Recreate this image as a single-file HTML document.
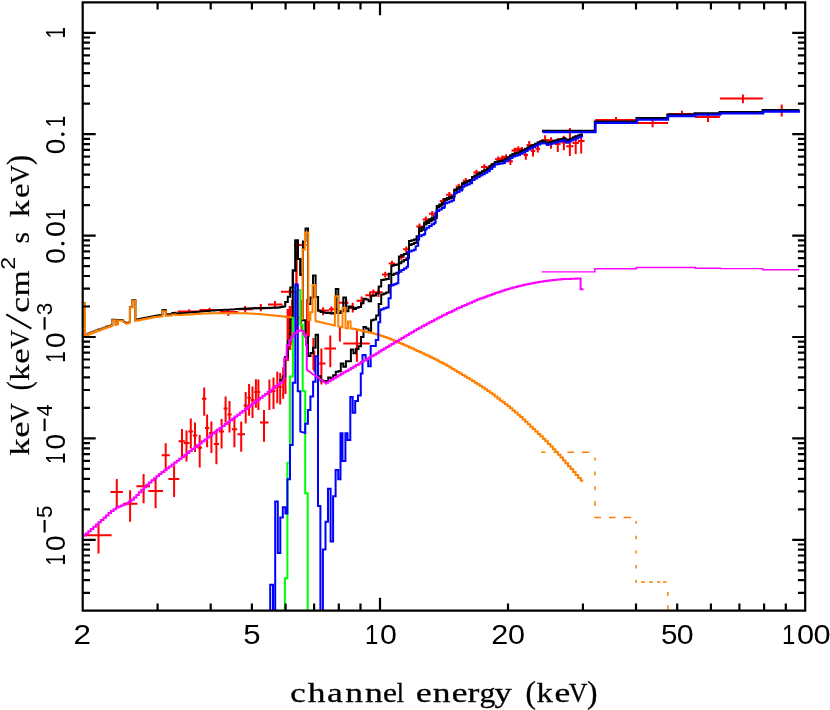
<!DOCTYPE html><html><head><meta charset="utf-8"><style>html,body{margin:0;padding:0;background:#fff}svg{display:block;will-change:transform}</style></head><body><svg width="830" height="710" viewBox="0 0 830 710"><path d="M83.4 535.3H111.6 M98.5 522.9V553.4 M110.5 492.0H122.9 M116.8 479.0V507.1 M122.9 503.8H137.5 M130.1 490.2V521.8 M136.4 486.2H150.0 M143.6 474.0V503.3 M148.4 490.9H163.0 M155.6 477.8V508.3 M161.7 455.3H169.8 M165.7 443.3V469.9 M168.4 479.0H179.3 M174.1 465.4V497.0 M178.6 441.3H184.9 M182.0 428.9V456.4 M183.8 442.9H189.4 M186.5 430.5V461.4 M188.3 431.6H193.2 M190.8 418.5V448.5 M192.8 435.6H197.3 M195.0 422.6V451.9 M197.5 447.8H202.0 M199.7 434.9V467.6 M202.0 398.8H206.4 M204.2 387.5V415.7 M205.0 428.1H209.2 M207.1 414.6V447.3 M209.0 433.0H213.8 M211.4 421.4V452.9 M213.8 443.9H219.0 M216.4 429.3V464.2 M219.0 431.5H224.0 M221.6 419.1V448.4 M223.6 408.5H227.6 M225.6 396.5V422.5 M227.5 414.6H231.7 M229.5 401.0V432.6 M231.8 429.3H237.2 M234.4 416.8V447.3 M237.5 434.2H245.0 M241.2 421.4V451.8 M243.6 405.6H247.8 M245.7 392.0V423.6 M247.3 397.7H251.0 M249.1 384.1V415.7 M250.8 399.9H254.3 M252.5 386.4V418.0 M254.2 392.0H257.5 M255.9 379.2V407.8 M256.8 392.0H260.2 M258.4 379.6V410.0 M260.0 422.5H268.5 M264.0 410.0V441.7 M267.0 392.0H271.7 M269.4 379.6V410.0 M271.6 391.0H275.4 M273.5 377.4V409.0 M275.5 386.0H279.0 M277.3 371.7V403.3 M278.6 387.0H281.8 M280.2 372.9V404.4 M281.8 381.0H284.6 M283.2 367.2V398.8 M284.5 372.0H286.5 M285.5 356.0V394.0 M177.6 311.6H199.4 M189.2 309.3V313.3 M199.4 310.0H219.6 M209.5 307.8V312.3 M219.6 312.0H238.0 M228.3 309.5V316.0 M238.0 309.3H252.5 M245.2 306.1V312.6 M252.5 307.9H268.0 M260.8 304.0V311.2 M268.0 304.4H282.5 M275.0 301.0V307.5 M281.0 291.7H294.0 M289.8 288.8V295.3 M317.7 310.5H329.0 M323.1 307.3V315.3 M329.0 309.3H339.0 M331.5 306.5V312.5 M339.0 302.8H348.5 M346.3 299.0V306.0 M348.5 307.9H356.5 M352.7 302.8V312.5 M356.5 300.7H364.5 M361.6 296.5V305.4 M365.4 295.2H373.0 M370.0 291.4V297.8 M373.8 292.3H382.7 M378.5 288.5V296.9 M293.9 245.0H306.6 M296.5 241.0V335.0 M319.2 363.4H325.5 M321.4 348.6V384.5 M324.4 348.6H336.0 M330.3 335.4V367.2 M339.9 333.4H339.9 M339.9 326.9V341.4 M343.3 343.4H369.8 M356.9 330.2V361.7 M595.2 119.9H636.8 M616.0 117.1V122.7 M636.8 123.0H668.1 M652.6 119.7V127.2 M668.1 114.0H695.0 M682.0 110.7V116.2 M695.0 117.1H719.9 M708.0 113.0V122.1 M719.9 98.5H762.9 M742.9 94.4V103.3 M762.9 111.0H799.7 M781.7 104.6V116.5 M370.2 292.3H376.6 M373.4 289.5V295.1 M382.0 274.6H388.4 M385.2 271.8V277.4 M388.8 263.6H395.2 M392.0 260.8V266.4 M398.1 256.9H404.5 M401.3 254.1V259.7 M403.1 249.3H409.5 M406.3 246.5V252.1 M416.3 226.4H422.7 M419.5 223.6V229.2 M422.6 219.4H429.0 M425.8 216.6V222.2 M429.0 213.7H435.4 M432.2 210.9V216.5 M439.8 201.0H446.2 M443.0 198.2V203.8 M446.1 194.7H452.5 M449.3 191.9V197.5 M455.6 186.5H462.0 M458.8 183.7V189.3 M462.6 180.8H469.0 M465.8 178.0V183.6 M473.3 172.5H479.7 M476.5 169.7V175.3 M481.1 167.1H487.5 M484.3 164.3V169.9 M487.8 166.5H494.2 M491.0 163.7V169.3 M494.9 159.2H501.3 M498.1 156.4V162.0 M499.2 158.4H505.6 M502.4 155.6V161.2 M502.8 157.0H509.2 M506.0 154.2V159.8 M511.5 150.5H517.9 M514.7 147.7V153.3 M515.1 149.0H521.5 M518.3 146.2V151.8 M518.7 149.8H525.1 M521.9 147.0V152.6 M507.9 161.3H512.9 M510.4 157.5V165.0 M523.6 155.0H528.0 M525.8 153.0V159.8 M526.6 144.9H531.8 M529.2 141.0V147.8 M530.8 151.1H535.2 M533.0 147.8V156.4 M535.4 148.7H540.2 M537.8 145.8V152.6 M541.3 139.9H548.9 M545.1 135.2V143.0 M548.6 140.5H553.4 M551.0 137.2V148.7 M555.0 143.9H560.6 M557.8 138.1V152.1 M561.3 142.5H566.5 M563.9 135.7V150.2 M566.3 146.3H573.5 M569.9 128.0V156.0 M572.5 143.0H578.9 M575.7 135.2V154.0 M577.8 141.0H584.6 M581.2 133.3V153.6" stroke="#ff0000" stroke-width="2" fill="none"/>
<path d="M287.8 309.0V361.0" stroke="#ff0000" stroke-width="2.4"/>
<path d="M290.0 306.0V350.0" stroke="#ff0000" stroke-width="2.6"/>
<path d="M292.3 300.0V345.0" stroke="#ff0000" stroke-width="2.2"/>
<path d="M296.4 244.0V330.0" stroke="#ff0000" stroke-width="1.6"/>
<path d="M307.0 299.0V354.0" stroke="#ff0000" stroke-width="1.8"/>
<path d="M308.9 315.0V337.0" stroke="#ff0000" stroke-width="2"/>
<path d="M313.4 338.0V370.0" stroke="#ff0000" stroke-width="2"/>
<path d="M314.3 350.7V371.8" stroke="#ff0000" stroke-width="2"/>
<path d="M301.3 300.0V330.0" stroke="#ff0000" stroke-width="1.6"/>
<clipPath id="cp"><rect x="82.7" y="2.3" width="722.5" height="608.4"/></clipPath>
<g clip-path="url(#cp)" stroke-linejoin="miter" stroke-linecap="butt">
<path d="M280.0 383.2 L280.2 383.2 L280.2 380.2 L282.7 380.2 L282.7 376.5 L285.2 376.5 L285.2 357.0 L287.8 357.0 L287.8 340.7 L290.3 340.7 L290.3 318.9 L292.8 318.9 L292.8 270.4 L295.4 270.4 L295.4 240.4 L297.9 240.4 L297.9 259.1 L300.4 259.1 L300.4 274.8 L302.9 274.8 L302.9 320.3 L305.4 320.3 L305.5 337.1 L308.0 337.1 L308.0 356.1 L310.5 356.1 L310.5 352.9 L313.0 352.9 L313.0 347.8 L315.6 347.8 L315.6 334.8 L318.1 334.8 L318.1 376.2 L320.6 376.2 L320.6 380.4 L323.1 380.4 L323.1 381.2 L325.6 381.2 L325.7 380.9 L328.2 380.9 L328.2 377.5 L330.7 377.5 L330.7 378.6 L333.2 378.6 L333.2 375.3 L335.8 375.3 L335.8 371.7 L338.3 371.7 L338.3 371.3 L340.8 371.3 L340.8 363.6 L343.3 363.6 L343.3 366.8 L345.9 366.8 L345.9 361.3 L348.4 361.3 L348.4 361.3 L350.9 361.3 L350.9 349.6 L353.4 349.6 L353.4 353.3 L355.9 353.3 L356.0 348.9 L358.5 348.9 L358.5 346.2 L361.0 346.2 L361.0 336.9 L363.5 336.9 L363.5 327.1 L366.1 327.1 L366.1 328.4 L368.6 328.4 L368.6 331.2 L371.1 331.2 L371.1 320.3 L373.6 320.3 L373.6 319.6 L376.1 319.6 L376.2 315.6 L378.7 315.6 L378.7 304.0 L381.2 304.0 L381.2 294.5 L383.7 294.5 L383.7 293.5 L386.2 293.5 L386.2 292.4 L388.8 292.4 L388.8 285.3 L391.3 285.3 L391.3 274.9 L393.8 274.9 L393.8 273.8 L396.4 273.8 L396.4 272.7 L398.9 272.7 L398.9 263.2 L401.4 263.2 L401.4 261.6 L403.9 261.6 L403.9 259.9 L406.4 259.9 L406.5 258.3 L409.0 258.3 L409.0 245.1 L411.5 245.1 L411.5 244.1 L414.0 244.1 L414.0 243.1 L416.5 243.1 L416.6 239.6 L419.1 239.6 L419.1 231.0 L421.6 231.0 L421.6 229.8 L424.1 229.8 L424.1 224.6 L426.6 224.6 L426.6 223.0 L429.2 223.0 L429.2 221.3 L431.7 221.3 L431.7 219.7 L434.2 219.7 L434.2 218.0 L436.8 218.0 L436.8 207.3 L439.3 207.3 L439.3 205.8 L441.8 205.8 L441.8 204.3 L444.3 204.3 L444.3 199.9 L446.9 199.9 L446.9 199.0 L449.4 199.0 L449.4 198.0 L451.9 198.0 L451.9 197.0 L454.4 197.0 L454.4 190.2 L456.9 190.2 L457.0 188.9 L459.5 188.9 L459.5 187.6 L462.0 187.6 L462.0 183.9 L464.5 183.9 L464.5 182.7 L467.0 182.7 L467.1 181.6 L469.6 181.6 L469.6 180.4 L472.1 180.4 L472.1 177.4 L474.6 177.4 L474.6 175.9 L477.1 175.9 L477.1 174.4 L479.7 174.4 L479.7 173.0 L482.2 173.0 L482.2 171.6 L484.7 171.6 L484.7 170.2 L487.2 170.2 L487.2 168.8 L489.8 168.8 L489.8 166.6 L492.3 166.6 L492.3 164.4 L494.8 164.4 L494.8 162.2 L497.4 162.2 L497.4 161.8 L499.9 161.8 L499.9 161.3 L502.4 161.3 L502.4 160.7 L504.9 160.7 L504.9 159.0 L507.4 159.0 L507.5 157.4 L510.0 157.4 L510.0 155.8 L512.5 155.8 L512.5 154.3 L515.0 154.3 L515.0 153.5 L517.5 153.5 L517.5 152.7 L520.1 152.7 L520.1 151.6 L522.6 151.6 L522.6 150.3 L525.1 150.3 L525.1 148.9 L527.6 148.9 L527.7 147.5 L530.2 147.5 L530.2 146.3 L532.7 146.3 L532.7 145.1 L535.2 145.1 L535.2 143.9 L537.8 143.9 L537.8 142.6 L540.3 142.6 L540.3 141.6 L542.8 141.6 L542.8 141.2 L545.3 141.2 L545.3 142.7 L547.9 142.7 L547.9 142.4 L550.4 142.4 L550.4 141.9 L552.9 141.9 L552.9 141.3 L555.4 141.3 L555.4 140.6 L557.9 140.6 L558.0 139.9 L560.5 139.9 L560.5 139.1 L563.0 139.1 L563.0 138.6 L565.5 138.6 L565.5 140.8 L568.1 140.8 L568.0 139.8 L570.6 139.8 L570.6 138.7 L573.1 138.7 L573.1 137.6 L575.6 137.6 L575.6 136.6 L578.1 136.6 L578.2 135.5 L580.7 135.5 L580.7 134.9 L583.0 134.9" stroke="#000000" stroke-width="2" fill="none" />
<path d="M85.0 302.1 L85.0 334.9 L85.0 335.1 L85.8 335.1 L85.8 334.4 L88.3 334.4 L88.3 333.5 L90.8 333.4 L90.8 332.5 L93.4 332.5 L93.4 331.6 L95.9 331.6 L95.9 330.6 L98.4 330.6 L98.4 329.6 L100.9 329.6 L100.9 328.7 L103.5 328.6 L103.5 327.7 L106.0 327.7 L106.0 326.8 L108.5 326.7 L108.5 325.9 L111.0 325.9 L111.0 325.2 L112.0 325.2 L112.3 325.1 L112.3 319.7 L115.7 319.7 L115.7 324.2 L117.9 323.7 L117.9 320.0 L122.6 319.9 L122.6 320.8 L125.0 322.1 L126.3 323.1 L129.9 322.0 L129.9 307.1 L132.3 307.0 L132.3 300.2 L135.4 300.2 L135.4 320.1 L136.0 319.9 L136.3 319.9 L136.3 319.6 L138.8 319.6 L138.8 319.0 L141.3 319.0 L141.3 318.5 L143.9 318.4 L143.9 317.9 L146.4 317.9 L146.4 317.4 L148.9 317.3 L148.9 316.9 L151.4 316.9 L151.4 316.4 L154.0 316.4 L154.0 316.0 L156.5 316.0 L156.5 315.6 L159.0 315.6 L159.0 315.3 L161.5 315.2 L161.5 315.0 L162.0 315.0 L162.4 315.0 L162.4 310.1 L165.8 310.0 L165.8 314.5 L166.0 314.5 L166.6 314.5 L166.6 314.3 L169.1 314.3 L169.1 314.1 L171.6 314.0 L171.6 313.9 L172.0 313.9 L172.3 313.9 L172.3 313.0 L175.6 312.9 L175.6 313.6 L176.0 313.6 L176.7 313.5 L176.7 313.4 L179.2 313.4 L179.2 313.3 L181.7 313.2 L181.7 313.1 L184.3 313.0 L184.3 312.9 L186.8 312.8 L186.8 312.7 L189.3 312.6 L189.3 312.5 L191.8 312.4 L191.8 312.3 L194.4 312.2 L194.4 312.0 L196.9 311.9 L196.9 311.8 L199.4 311.7 L199.4 311.6 L201.9 311.5 L201.9 311.3 L204.5 311.2 L204.5 311.1 L207.0 311.0 L207.0 310.9 L209.5 310.8 L209.5 310.7 L212.0 310.6 L212.0 310.6 L214.6 310.4 L214.6 310.4 L217.1 310.3 L217.1 310.3 L219.6 310.1 L219.6 310.1 L222.1 310.0 L222.1 310.0 L224.7 309.8 L224.7 309.8 L227.2 309.7 L227.2 309.7 L229.7 309.6 L229.7 309.6 L232.2 309.4 L232.2 309.4 L234.8 309.3 L234.8 309.3 L237.3 309.1 L237.3 309.1 L239.8 308.9 L239.8 309.0 L242.3 308.8 L242.3 308.8 L244.9 308.6 L244.9 308.7 L247.4 308.5 L247.4 308.6 L249.9 308.4 L249.9 308.5 L252.4 308.3 L252.4 308.4 L255.0 308.2 L255.0 308.4 L257.5 308.1 L257.5 308.3 L260.0 308.1 L260.0 308.3 L262.5 308.0 L262.5 308.2 L265.1 307.9 L265.1 308.2 L267.6 307.9 L267.6 308.1 L270.1 307.8 L270.1 308.0 L272.6 307.7 L272.6 307.9 L275.1 307.6 L275.2 307.8 L277.7 307.5 L277.7 307.7 L280.0 307.4 L280.2 307.4 L280.2 307.0 L282.7 307.0 L282.7 306.5 L285.2 306.5 L285.2 302.0 L287.8 302.0 L287.8 296.8 L290.3 296.8 L290.3 287.6 L292.8 287.6 L292.8 270.4 L295.4 270.4 L295.4 240.4 L297.9 240.4 L297.9 259.1 L300.4 259.1 L300.4 274.8 L302.9 274.8 L302.9 241.4 L305.4 241.4 L305.5 228.6 L308.0 228.6 L308.0 303.9 L310.5 303.9 L310.5 297.6 L313.0 297.6 L313.0 275.4 L315.6 275.4 L315.6 297.1 L318.1 297.1 L318.1 310.7 L320.6 310.7 L320.6 312.0 L323.1 312.0 L323.1 312.6 L325.6 312.6 L325.7 313.0 L328.2 313.0 L328.2 312.7 L330.7 312.7 L330.7 313.4 L333.2 313.4 L333.2 313.0 L335.8 313.0 L335.8 288.9 L338.3 288.9 L338.3 313.0 L340.8 313.0 L340.8 311.2 L343.3 311.2 L343.3 297.6 L345.9 297.6 L345.9 311.2 L348.4 311.2 L348.4 306.5 L350.9 306.5 L350.9 307.3 L353.4 307.3 L353.4 309.0 L355.9 309.0 L356.0 307.7 L358.5 307.7 L358.5 306.9 L361.0 306.9 L361.0 303.2 L363.5 303.2 L363.5 298.7 L366.1 298.7 L366.1 299.6 L368.6 299.6 L368.6 301.3 L371.1 301.3 L371.1 295.7 L373.6 295.7 L373.6 295.6 L376.1 295.6 L376.2 293.5 L378.7 293.5 L378.7 286.4 L381.2 286.4 L381.2 280.0 L383.7 280.0 L383.7 279.5 L386.2 279.5 L386.2 278.9 L388.8 278.9 L388.8 273.8 L391.3 273.8 L391.3 265.8 L393.8 265.8 L393.8 265.1 L396.4 265.1 L396.4 264.4 L398.9 264.4 L398.9 256.5 L401.4 256.5 L401.4 255.3 L403.9 255.3 L403.9 254.0 L406.4 254.0 L406.5 252.7 L409.0 252.7 L409.0 241.0 L411.5 241.0 L411.5 240.2 L414.0 240.2 L414.0 239.4 L416.5 239.4 L416.6 236.2 L419.1 236.2 L419.1 228.3 L421.6 228.3 L421.6 227.2 L424.1 227.2 L424.1 222.4 L426.6 222.4 L426.6 220.9 L429.2 220.9 L429.2 219.3 L431.7 219.3 L431.7 217.8 L434.2 217.8 L434.2 216.3 L436.8 216.3 L436.8 206.0 L439.3 206.0 L439.3 204.5 L441.8 204.5 L441.8 203.1 L444.3 203.1 L444.3 198.9 L446.9 198.9 L446.9 198.0 L449.4 198.0 L449.4 197.1 L451.9 197.1 L451.9 196.2 L454.4 196.2 L454.4 189.5 L456.9 189.5 L457.0 188.2 L459.5 188.2 L459.5 186.9 L462.0 186.9 L462.0 183.3 L464.5 183.3 L464.5 182.2 L467.0 182.2 L467.1 181.1 L469.6 181.1 L469.6 180.0 L472.1 180.0 L472.1 176.9 L474.6 176.9 L474.6 175.5 L477.1 175.5 L477.1 174.0 L479.7 174.0 L479.7 172.6 L482.2 172.6 L482.2 171.3 L484.7 171.3 L484.7 169.9 L487.2 169.9 L487.2 168.5 L489.8 168.5 L489.8 166.3 L492.3 166.3 L492.3 164.1 L494.8 164.1 L494.8 162.0 L497.4 162.0 L497.4 161.6 L499.9 161.6 L499.9 161.1 L502.4 161.1 L502.4 160.5 L504.9 160.5 L504.9 158.9 L507.4 158.9 L507.5 157.2 L510.0 157.2 L510.0 155.6 L512.5 155.6 L512.5 154.1 L515.0 154.1 L515.0 153.4 L517.5 153.4 L517.5 152.6 L520.1 152.6 L520.1 151.5 L522.6 151.5 L522.6 150.2 L525.1 150.2 L525.1 148.8 L527.6 148.8 L527.7 147.5 L530.2 147.5 L530.2 146.2 L532.7 146.2 L532.7 145.0 L535.2 145.0 L535.2 143.8 L537.8 143.8 L537.8 142.6 L540.3 142.6 L540.3 141.6 L542.8 141.6 L542.8 141.2 L545.3 141.2 L545.3 142.7 L547.9 142.7 L547.9 142.4 L550.4 142.4 L550.4 141.9 L552.9 141.9 L552.9 141.3 L555.4 141.3 L555.4 140.6 L557.9 140.6 L558.0 139.8 L560.5 139.8 L560.5 139.1 L563.0 139.1 L563.0 138.6 L565.5 138.6 L565.5 140.8 L568.1 140.8 L568.0 139.7 L570.6 139.7 L570.6 138.7 L573.1 138.7 L573.1 137.6 L575.6 137.6 L575.6 136.6 L578.1 136.6 L578.2 135.5 L580.7 135.5 L580.7 134.8 L583.0 134.8" stroke="#000000" stroke-width="2" fill="none" />
<path d="M541.9 130.8 L594.9 130.8 L594.9 121.5 L636.5 121.5 L636.5 118.2 L667.4 118.2 L667.4 114.7 L694.7 114.7 L694.7 113.3 L719.6 113.3 L719.6 112.0 L762.6 112.0 L762.6 110.2 L799.4 110.2" stroke="#000000" stroke-width="2.2" fill="none" />
<path d="M85.0 302.3 L85.0 335.4 L85.0 335.6 L85.8 335.6 L85.8 334.9 L88.3 334.9 L88.3 333.9 L90.8 333.9 L90.8 333.0 L93.4 333.0 L93.4 332.1 L95.9 332.1 L95.9 331.1 L98.4 331.1 L98.4 330.2 L100.9 330.2 L100.9 329.2 L103.5 329.2 L103.5 328.3 L106.0 328.3 L106.0 327.4 L108.5 327.4 L108.5 326.5 L111.0 326.5 L111.0 325.8 L112.0 325.8 L112.3 325.8 L112.3 320.3 L115.7 320.3 L115.7 324.9 L117.9 324.4 L117.9 320.6 L122.6 320.6 L122.6 321.5 L125.0 322.8 L126.3 323.8 L129.9 322.8 L129.9 307.6 L132.3 307.6 L132.3 300.7 L135.4 300.7 L135.4 320.9 L136.0 320.7 L136.3 320.7 L136.3 320.4 L138.8 320.4 L138.8 319.9 L141.3 319.9 L141.3 319.4 L143.9 319.4 L143.9 318.9 L146.4 318.9 L146.4 318.4 L148.9 318.4 L148.9 317.9 L151.4 317.9 L151.4 317.5 L154.0 317.5 L154.0 317.1 L156.5 317.1 L156.5 316.8 L159.0 316.8 L159.0 316.4 L161.5 316.4 L161.5 316.2 L162.0 316.2 L162.4 316.2 L162.4 311.2 L165.8 311.2 L165.8 315.9 L166.0 315.8 L166.6 315.8 L166.6 315.7 L169.1 315.7 L169.1 315.5 L171.6 315.5 L171.6 315.4 L172.0 315.4 L172.3 315.3 L172.3 314.4 L175.6 314.4 L175.6 315.1 L176.0 315.1 L176.7 315.1 L176.7 315.0 L179.2 315.0 L179.2 314.9 L181.7 314.9 L181.7 314.7 L184.3 314.7 L184.3 314.6 L186.8 314.6 L186.8 314.5 L189.3 314.5 L189.3 314.4 L191.8 314.4 L191.8 314.2 L194.4 314.2 L194.4 314.1 L196.9 314.1 L196.9 313.9 L199.4 313.9 L199.4 313.8 L201.9 313.8 L201.9 313.6 L204.5 313.6 L204.5 313.5 L207.0 313.5 L207.0 313.4 L209.5 313.4 L209.5 313.3 L212.0 313.3 L212.0 313.3 L214.6 313.3 L214.6 313.2 L217.1 313.2 L217.1 313.2 L219.6 313.2 L219.6 313.2 L222.1 313.2 L222.1 313.2 L224.7 313.2 L224.7 313.2 L227.2 313.2 L227.2 313.2 L229.7 313.2 L229.7 313.2 L232.2 313.2 L232.2 313.2 L234.8 313.2 L234.8 313.2 L237.3 313.2 L237.3 313.2 L239.8 313.2 L239.8 313.2 L242.3 313.2 L242.3 313.3 L244.9 313.3 L244.9 313.3 L247.4 313.3 L247.4 313.4 L249.9 313.4 L249.9 313.6 L252.4 313.6 L252.4 313.7 L255.0 313.7 L255.0 313.9 L257.5 313.9 L257.5 314.1 L260.0 314.1 L260.0 314.3 L262.5 314.3 L262.5 314.5 L265.1 314.5 L265.1 314.8 L267.6 314.8 L267.6 315.0 L270.1 315.0 L270.1 315.3 L272.6 315.3 L272.6 315.5 L275.1 315.5 L275.2 315.8 L277.7 315.8 L277.7 316.0 L280.2 316.0 L280.2 316.3 L282.7 316.3 L282.7 316.6 L285.2 316.6 L285.2 316.9 L287.8 316.9 L287.8 317.1 L290.3 317.1 L290.3 317.4 L291.0 317.4 L291.2 317.4 L302.7 318.6 L302.7 249.4 L305.0 249.4 L305.0 232.5 L308.3 232.5 L308.3 319.9 L310.4 319.9 L310.4 312.3 L312.5 312.3 L312.5 284.9 L315.5 284.9 L315.5 321.1 L325.0 323.2 L334.9 325.4 L334.9 296.2 L338.3 296.2 L338.3 326.4 L342.5 327.2 L342.5 307.8 L345.5 307.8 L345.5 328.0 L348.0 328.3 L348.0 321.4 L350.6 321.4 L350.6 328.6 L352.0 328.6 L353.4 328.6 L353.4 329.1 L355.9 329.1 L356.0 329.6 L358.5 329.6 L358.5 330.2 L361.0 330.2 L361.0 330.7 L363.5 330.7 L363.5 331.3 L366.1 331.3 L366.1 331.9 L368.6 331.9 L368.6 332.5 L371.1 332.5 L371.1 333.1 L373.6 333.1 L373.6 333.8 L376.1 333.8 L376.2 334.4 L378.7 334.4 L378.7 335.2 L381.2 335.2 L381.2 336.0 L383.7 336.0 L383.7 336.9 L386.2 336.9 L386.2 337.8 L388.8 337.8 L388.8 338.8 L391.3 338.8 L391.3 339.8 L393.8 339.8 L393.8 340.8 L396.4 340.8 L396.4 341.9 L398.9 341.9 L398.9 343.0 L401.4 343.0 L401.4 344.1 L403.9 344.1 L403.9 345.2 L406.4 345.2 L406.5 346.3 L409.0 346.3 L409.0 347.4 L411.5 347.4 L411.5 348.6 L414.0 348.6 L414.0 349.7 L416.5 349.7 L416.6 350.9 L419.1 350.9 L419.1 352.0 L421.6 352.0 L421.6 353.2 L424.1 353.2 L424.1 354.4 L426.6 354.4 L426.6 355.6 L429.2 355.6 L429.2 356.8 L431.7 356.8 L431.7 358.1 L434.2 358.1 L434.2 359.3 L436.8 359.3 L436.8 360.6 L439.3 360.6 L439.3 361.9 L441.8 361.9 L441.8 363.2 L444.3 363.2 L444.3 364.6 L446.9 364.6 L446.9 366.0 L449.4 366.0 L449.4 367.4 L451.9 367.4 L451.9 368.9 L454.4 368.9 L454.4 370.4 L456.9 370.4 L457.0 371.9 L459.5 371.9 L459.5 373.4 L462.0 373.4 L462.0 374.9 L464.5 374.9 L464.5 376.5 L467.0 376.5 L467.1 378.0 L469.6 378.0 L469.6 379.6 L472.1 379.6 L472.1 381.1 L474.6 381.1 L474.6 382.7 L477.1 382.7 L477.1 384.3 L479.7 384.3 L479.7 385.9 L482.2 385.9 L482.2 387.6 L484.7 387.6 L484.7 389.2 L487.2 389.2 L487.2 391.0 L489.8 391.0 L489.8 392.7 L492.3 392.7 L492.3 394.6 L494.8 394.6 L494.8 396.5 L497.4 396.5 L497.4 398.4 L499.9 398.4 L499.9 400.4 L502.4 400.4 L502.4 402.3 L504.9 402.3 L504.9 404.3 L507.4 404.3 L507.5 406.3 L510.0 406.3 L510.0 408.3 L512.5 408.3 L512.5 410.4 L515.0 410.4 L515.0 412.5 L517.5 412.5 L517.5 414.7 L520.1 414.7 L520.1 417.0 L522.6 417.0 L522.6 419.4 L525.1 419.4 L525.1 421.8 L527.6 421.8 L527.7 424.2 L530.2 424.2 L530.2 426.7 L532.7 426.7 L532.7 429.1 L535.2 429.1 L535.2 431.5 L537.8 431.5 L537.8 433.9 L540.3 433.9 L540.3 436.3 L542.8 436.3 L542.8 438.8 L545.3 438.8 L545.3 441.3 L547.9 441.3 L547.9 443.9 L550.4 443.9 L550.4 446.5 L552.9 446.5 L552.9 449.2 L555.4 449.2 L555.4 451.9 L557.9 451.9 L558.0 454.7 L560.5 454.7 L560.5 457.5 L563.0 457.5 L563.0 460.4 L565.5 460.4 L565.5 463.3 L568.1 463.3 L568.0 466.2 L570.6 466.2 L570.6 469.1 L573.1 469.1 L573.1 472.1 L575.6 472.1 L575.6 475.0 L578.1 475.0 L578.2 478.0 L580.7 478.0 L580.7 480.3 L581.4 480.3 L581.4 480.8 L583.3 480.8" stroke="#ff8000" stroke-width="2" fill="none" />
<path d="M284.9 612.0 L284.9 578.3 L287.4 578.3 L287.4 462.8 L289.9 462.8 L289.9 376.4 L292.9 376.4 L292.9 318.0 L295.3 318.0 L295.3 288.0 L297.8 288.0 L297.8 290.3 L300.3 290.3 L300.3 324.8 L302.7 324.8 L302.7 391.2 L305.2 391.2 L305.2 493.3 L307.7 493.3 L307.7 612.0" stroke="#00ff00" stroke-width="2" fill="none" />
<path d="M270.2 612.0 L270.2 584.7 L273.0 584.7 L273.0 612.0" stroke="#0000ff" stroke-width="2" fill="none" />
<path d="M275.2 612.0 L275.2 501.4 L277.8 501.4 L277.8 552.9 L280.3 552.9 L280.3 517.4 L282.8 517.4 L282.8 507.3 L285.4 507.3 L285.4 513.6 L287.4 513.6 L287.4 479.3 L290.0 479.3 L290.0 445.0 L292.7 445.0 L292.7 382.8 L295.3 382.8 L295.3 284.4 L297.8 284.4 L297.8 391.2 L300.3 391.2 L300.3 431.6 L305.2 433.0 L305.2 423.7 L307.9 423.7 L307.9 409.9 L310.4 409.9 L310.4 396.6 L313.1 396.6 L313.1 381.8 L315.5 381.8 L315.5 356.2 L318.0 356.2 L318.0 506.0 L320.4 506.0 L320.4 612.0" stroke="#0000ff" stroke-width="2" fill="none" />
<path d="M322.9 612.0 L322.9 549.6 L325.5 549.6 L325.5 521.7 L328.0 521.7 L328.0 488.7 L330.6 488.7 L330.6 541.5 L333.1 541.5 L333.1 496.3 L335.6 496.3 L335.6 470.0 L338.2 470.0 L338.2 479.3 L340.5 479.3 L340.5 433.2 L342.5 433.2 L342.5 461.0 L345.4 461.0 L345.4 433.2 L347.5 433.2 L347.5 439.9 L350.3 439.9 L350.3 396.9 L352.7 396.9 L352.7 412.7 L355.2 412.7 L355.2 401.1 L358.0 401.1 L358.0 395.5 L360.8 395.5 L360.8 373.5 L362.5 373.5 L362.5 354.9 L365.6 354.9 L365.6 358.7 L368.2 358.7 L368.2 366.3 L370.7 366.3 L370.7 346.1 L375.8 346.1 L375.8 340.1 L378.3 340.1 L378.3 322.3 L380.2 322.3 L380.2 310.0 L380.2 310.0 L381.2 310.0 L381.2 309.2 L383.7 309.2 L383.7 308.3 L386.2 308.3 L386.2 307.4 L388.6 307.4 L388.6 307.0 L388.6 298.2 L390.7 298.2 L390.7 285.9 L390.7 285.9 L391.3 285.9 L391.3 285.2 L393.8 285.2 L393.8 284.2 L396.4 284.2 L396.4 283.3 L398.3 283.3 L398.3 283.0 L398.3 273.0 L398.3 273.0 L398.9 273.0 L398.9 271.8 L401.4 271.8 L401.4 270.1 L403.9 270.1 L403.9 268.5 L406.4 268.5 L406.5 266.8 L408.0 266.8 L408.0 266.6 L408.0 252.3 L408.0 252.3 L409.0 252.3 L409.0 251.5 L411.5 251.5 L411.5 250.6 L414.0 250.6 L414.0 249.7 L415.7 249.7 L415.7 249.5 L415.7 246.5 L418.2 245.7 L418.2 237.2 L418.2 237.2 L419.1 237.2 L419.1 236.2 L421.6 236.2 L421.6 235.1 L424.1 235.1 L424.1 234.0 L425.2 234.0 L425.2 229.5 L425.2 229.4 L426.6 229.4 L426.6 227.7 L429.2 227.7 L429.2 226.0 L431.7 226.0 L431.7 224.3 L434.2 224.3 L434.2 222.7 L435.6 222.7 L435.6 222.6 L435.6 212.5 L435.6 212.5 L436.8 212.5 L436.8 211.0 L439.3 211.0 L439.3 209.5 L441.8 209.5 L441.8 207.9 L444.3 207.9 L444.3 206.8 L444.9 206.8 L444.9 203.6 L444.9 203.3 L446.9 203.3 L446.9 202.4 L449.4 202.4 L449.4 201.5 L451.9 201.5 L451.9 200.5 L454.0 200.5 L454.0 200.2 L454.0 194.1 L454.0 194.1 L454.4 194.1 L454.4 193.2 L456.9 193.2 L457.0 191.9 L459.5 191.9 L459.5 190.6 L462.0 190.6 L462.0 189.6 L462.6 189.6 L462.6 187.0 L462.6 186.7 L464.5 186.7 L464.5 185.6 L467.0 185.6 L467.1 184.4 L469.6 184.4 L469.6 183.3 L472.1 183.3 L472.1 182.7 L472.1 180.8 L472.1 180.1 L474.6 180.1 L474.6 178.6 L477.1 178.6 L477.1 177.1 L479.7 177.1 L479.7 176.3 L479.7 176.3 L479.7 175.6 L482.2 175.6 L482.2 174.2 L484.7 174.2 L484.7 172.8 L487.2 172.8 L487.2 171.3 L488.6 171.3 L488.6 171.3 L489.8 171.3 L489.8 169.1 L492.3 169.1 L492.3 166.7 L494.8 166.7 L494.8 164.6 L495.9 164.6 L495.9 164.6 L497.4 164.6 L497.4 164.1 L499.9 164.1 L499.9 163.6 L502.4 163.6 L502.4 163.2 L503.4 163.2 L503.4 163.0 L504.9 163.0 L504.9 161.3 L507.4 161.3 L507.5 159.7 L510.0 159.7 L510.0 158.0 L512.5 158.0 L512.5 156.6 L513.3 156.6 L513.3 156.5 L515.0 156.5 L515.0 155.7 L517.5 155.7 L517.5 154.9 L520.0 154.9 L520.0 154.5 L520.1 154.5 L520.1 153.8 L522.6 153.8 L522.6 152.4 L525.1 152.4 L525.1 151.0 L527.6 151.0 L527.7 149.6 L529.6 149.6 L529.6 149.2 L530.2 149.2 L530.2 148.3 L532.7 148.3 L532.7 147.0 L535.2 147.0 L535.2 145.8 L537.8 145.8 L537.8 144.5 L539.3 144.5 L539.3 144.4 L540.3 144.4 L540.3 143.5 L542.7 143.5 L542.7 143.0 L545.3 143.2 L546.8 144.9 L546.8 144.9 L547.9 144.9 L547.9 144.4 L550.4 144.4 L550.4 143.8 L552.9 143.8 L552.9 143.4 L553.7 143.4 L553.7 143.3 L555.4 143.3 L555.4 142.5 L557.9 142.5 L558.0 141.8 L560.5 141.8 L560.5 141.0 L563.0 141.0 L563.0 140.5 L563.4 140.5 L565.0 140.5 L566.3 143.0 L566.3 142.8 L568.1 142.8 L568.0 141.7 L570.6 141.7 L570.6 140.6 L573.1 140.6 L573.1 139.6 L574.0 139.6 L574.0 139.4 L575.6 139.4 L575.6 138.4 L578.1 138.4 L578.2 137.3 L580.7 137.3 L580.7 136.2 L583.1 136.2" stroke="#0000ff" stroke-width="2" fill="none" />
<path d="M542.5 132.2 L595.5 132.2 L595.5 122.8 L637.1 122.8 L637.1 119.6 L668.0 119.6 L668.0 116.0 L695.3 116.0 L695.3 114.7 L720.2 114.7 L720.2 113.4 L763.2 113.4 L763.2 111.5 L800.0 111.5" stroke="#0000ff" stroke-width="2.3" fill="none" />
<path d="M83.4 535.5 L85.8 535.5 L85.8 533.4 L88.3 533.4 L88.3 531.2 L90.8 531.2 L90.8 529.0 L93.4 529.0 L93.4 526.8 L95.9 526.8 L95.9 524.5 L98.4 524.5 L98.4 522.3 L100.9 522.3 L100.9 520.0 L103.5 520.0 L103.5 517.7 L106.0 517.7 L106.0 515.4 L108.5 515.4 L108.5 513.1 L111.0 513.1 L111.0 511.1 L113.6 511.1 L113.6 509.2 L116.1 509.2 L116.1 507.6 L118.6 507.6 L118.6 506.4 L121.1 506.4 L121.1 505.4 L123.7 505.4 L123.7 504.4 L126.2 504.4 L126.2 503.2 L128.7 503.2 L128.7 501.6 L131.2 501.6 L131.2 499.7 L133.8 499.7 L133.8 497.4 L136.3 497.4 L136.3 494.9 L138.8 494.9 L138.8 492.3 L141.3 492.3 L141.3 489.7 L143.9 489.7 L143.9 487.2 L146.4 487.2 L146.4 484.8 L148.9 484.8 L148.9 482.5 L151.4 482.5 L151.4 480.3 L154.0 480.3 L154.0 478.2 L156.5 478.2 L156.5 476.1 L159.0 476.1 L159.0 474.1 L161.5 474.1 L161.5 472.1 L164.1 472.1 L164.1 470.2 L166.6 470.2 L166.6 468.3 L169.1 468.3 L169.1 466.4 L171.6 466.4 L171.6 464.5 L174.2 464.5 L174.2 462.6 L176.7 462.6 L176.7 460.7 L179.2 460.7 L179.2 458.8 L181.7 458.8 L181.7 456.9 L184.3 456.9 L184.3 455.0 L186.8 455.0 L186.8 453.0 L189.3 453.0 L189.3 451.1 L191.8 451.1 L191.8 449.1 L194.4 449.1 L194.4 447.1 L196.9 447.1 L196.9 445.2 L199.4 445.2 L199.4 443.2 L201.9 443.2 L201.9 441.3 L204.5 441.3 L204.5 439.4 L207.0 439.4 L207.0 437.5 L209.5 437.5 L209.5 435.5 L212.0 435.5 L212.0 433.6 L214.6 433.6 L214.6 431.7 L217.1 431.7 L217.1 429.8 L219.6 429.8 L219.6 427.9 L222.1 427.9 L222.1 426.0 L224.7 426.0 L224.7 424.1 L227.2 424.1 L227.2 422.2 L229.7 422.2 L229.7 420.3 L232.2 420.3 L232.2 418.4 L234.8 418.4 L234.8 416.5 L237.3 416.5 L237.3 414.7 L239.8 414.7 L239.8 412.8 L242.3 412.8 L242.3 410.9 L244.9 410.9 L244.9 409.0 L247.4 409.0 L247.4 407.1 L249.9 407.1 L249.9 405.2 L252.4 405.2 L252.4 403.3 L255.0 403.3 L255.0 401.4 L257.5 401.4 L257.5 399.5 L260.0 399.5 L260.0 397.7 L262.5 397.7 L262.5 395.8 L265.1 395.8 L265.1 393.9 L267.6 393.9 L267.6 391.9 L270.1 391.9 L270.1 390.0 L272.6 390.0 L272.6 388.1 L275.1 388.1 L275.2 386.1 L277.7 386.1 L277.7 384.2 L280.2 384.2 L280.2 382.2 L282.5 382.2 L282.5 381.4 L284.2 378.5 L284.2 358.6 L286.7 358.6 L286.7 345.6 L289.2 345.6 L289.2 340.3 L291.3 340.3 L291.3 336.4 L293.7 336.4 L293.7 333.2 L296.9 333.2 L296.9 330.8 L303.6 330.8 L303.6 334.6 L306.0 334.6 L306.0 345.2 L306.8 345.2 L306.8 369.7 L312.0 373.5 L318.0 377.6 L325.9 383.3 L325.9 382.7 L328.2 382.7 L328.2 381.2 L330.7 381.2 L330.7 379.7 L333.2 379.7 L333.2 378.2 L335.8 378.2 L335.8 376.7 L338.3 376.7 L338.3 375.3 L340.8 375.3 L340.8 373.8 L343.3 373.8 L343.3 372.3 L345.9 372.3 L345.9 370.9 L348.4 370.9 L348.4 369.4 L350.9 369.4 L350.9 367.9 L353.4 367.9 L353.4 366.5 L355.9 366.5 L356.0 365.0 L358.5 365.0 L358.5 363.6 L361.0 363.6 L361.0 362.1 L363.5 362.1 L363.5 360.6 L366.1 360.6 L366.1 359.1 L368.6 359.1 L368.6 357.6 L371.1 357.6 L371.1 356.2 L373.6 356.2 L373.6 354.7 L376.1 354.7 L376.2 353.2 L378.7 353.2 L378.7 351.6 L381.2 351.6 L381.2 350.1 L383.7 350.1 L383.7 348.6 L386.2 348.6 L386.2 347.1 L388.8 347.1 L388.8 345.5 L391.3 345.5 L391.3 344.0 L393.8 344.0 L393.8 342.5 L396.4 342.5 L396.4 340.9 L398.9 340.9 L398.9 339.4 L401.4 339.4 L401.4 337.9 L403.9 337.9 L403.9 336.4 L406.4 336.4 L406.5 334.9 L409.0 334.9 L409.0 333.5 L411.5 333.5 L411.5 332.0 L414.0 332.0 L414.0 330.6 L416.5 330.6 L416.6 329.1 L419.1 329.1 L419.1 327.7 L421.6 327.7 L421.6 326.3 L424.1 326.3 L424.1 324.9 L426.6 324.9 L426.6 323.6 L429.2 323.6 L429.2 322.2 L431.7 322.2 L431.7 320.9 L434.2 320.9 L434.2 319.5 L436.8 319.5 L436.8 318.2 L439.3 318.2 L439.3 316.9 L441.8 316.9 L441.8 315.6 L444.3 315.6 L444.3 314.4 L446.9 314.4 L446.9 313.1 L449.4 313.1 L449.4 311.9 L451.9 311.9 L451.9 310.7 L454.4 310.7 L454.4 309.5 L456.9 309.5 L457.0 308.3 L459.5 308.3 L459.5 307.2 L462.0 307.2 L462.0 306.0 L464.5 306.0 L464.5 304.9 L467.0 304.9 L467.1 303.8 L469.6 303.8 L469.6 302.7 L472.1 302.7 L472.1 301.7 L474.6 301.7 L474.6 300.6 L477.1 300.6 L477.1 299.6 L479.7 299.6 L479.7 298.6 L482.2 298.6 L482.2 297.7 L484.7 297.7 L484.7 296.7 L487.2 296.7 L487.2 295.8 L489.8 295.8 L489.8 294.9 L492.3 294.9 L492.3 294.0 L494.8 294.0 L494.8 293.1 L497.4 293.1 L497.4 292.3 L499.9 292.3 L499.9 291.4 L502.4 291.4 L502.4 290.6 L504.9 290.6 L504.9 289.8 L507.4 289.8 L507.5 289.1 L510.0 289.1 L510.0 288.3 L512.5 288.3 L512.5 287.6 L515.0 287.6 L515.0 287.0 L517.5 287.0 L517.5 286.3 L520.1 286.3 L520.1 285.7 L522.6 285.7 L522.6 285.1 L525.1 285.1 L525.1 284.5 L527.6 284.5 L527.7 284.0 L530.2 284.0 L530.2 283.5 L532.7 283.5 L532.7 283.0 L535.2 283.0 L535.2 282.5 L537.8 282.5 L537.8 282.1 L540.3 282.1 L540.3 281.7 L542.8 281.7 L542.8 281.3 L545.3 281.3 L545.3 280.9 L547.9 280.9 L547.9 280.5 L550.4 280.5 L550.4 280.2 L552.9 280.2 L552.9 279.9 L555.4 279.9 L555.4 279.7 L557.9 279.7 L558.0 279.5 L560.5 279.5 L560.5 279.3 L563.0 279.3 L563.0 279.1 L565.5 279.1 L565.5 279.0 L568.1 279.0 L568.0 278.9 L570.6 278.9 L570.6 278.8 L573.1 278.8 L573.1 278.7 L575.6 278.7 L575.6 278.6 L578.1 278.6 L578.2 278.5 L580.6 278.5 L580.6 289.2 L583.5 289.2" stroke="#ff00ff" stroke-width="2" fill="none" />
<path d="M541.8 271.9 L594.8 271.9 L594.8 268.8 L636.3 268.8 L636.3 267.5 L695.3 267.5 L695.3 268.2 L720.6 268.2 L720.6 268.6 L762.8 268.6 L762.8 269.8 L799.2 269.8" stroke="#ff00ff" stroke-width="1.4" fill="none" />
<path d="M541.2 452.2H545.5 M553.5 452.2H558.0 M567.5 452.2H574.0 M582.0 452.2H589.4 M594.2 517.5H601.0 M609.0 517.5H615.6 M623.6 517.5H631.1 M641.0 582.0H645.1 M649.0 582.0H653.0 M657.0 582.0H660.3 M663.0 582.0H666.5 M595.0 457.5V460.5 M595.0 471.5V475.5 M595.0 486.2V490.2 M595.0 501.0V506.0 M636.2 521.0V523.7 M636.2 535.7V539.2 M636.2 550.4V553.6 M636.2 565.1V568.6 M636.2 579.8V583.0 M667.8 591.9V595.9 M667.8 605.3V609.8" stroke="#ff8000" stroke-width="1.5" fill="none"/>
</g>
<path d="M82.7 2.3 H805.2 V610.7 H82.7 Z M82.7 592.8h7.3 M805.2 592.8h-7.3 M82.7 580.2h7.3 M805.2 580.2h-7.3 M82.7 570.3h7.3 M805.2 570.3h-7.3 M82.7 562.3h7.3 M805.2 562.3h-7.3 M82.7 555.5h7.3 M805.2 555.5h-7.3 M82.7 549.7h7.3 M805.2 549.7h-7.3 M82.7 544.5h7.3 M805.2 544.5h-7.3 M82.7 539.8h13.0 M805.2 539.8h-13.0 M82.7 509.3h7.3 M805.2 509.3h-7.3 M82.7 491.4h7.3 M805.2 491.4h-7.3 M82.7 478.8h7.3 M805.2 478.8h-7.3 M82.7 468.9h7.3 M805.2 468.9h-7.3 M82.7 460.9h7.3 M805.2 460.9h-7.3 M82.7 454.1h7.3 M805.2 454.1h-7.3 M82.7 448.3h7.3 M805.2 448.3h-7.3 M82.7 443.1h7.3 M805.2 443.1h-7.3 M82.7 438.4h13.0 M805.2 438.4h-13.0 M82.7 407.9h7.3 M805.2 407.9h-7.3 M82.7 390.0h7.3 M805.2 390.0h-7.3 M82.7 377.4h7.3 M805.2 377.4h-7.3 M82.7 367.5h7.3 M805.2 367.5h-7.3 M82.7 359.5h7.3 M805.2 359.5h-7.3 M82.7 352.7h7.3 M805.2 352.7h-7.3 M82.7 346.9h7.3 M805.2 346.9h-7.3 M82.7 341.7h7.3 M805.2 341.7h-7.3 M82.7 337.0h13.0 M805.2 337.0h-13.0 M82.7 306.5h7.3 M805.2 306.5h-7.3 M82.7 288.6h7.3 M805.2 288.6h-7.3 M82.7 276.0h7.3 M805.2 276.0h-7.3 M82.7 266.1h7.3 M805.2 266.1h-7.3 M82.7 258.1h7.3 M805.2 258.1h-7.3 M82.7 251.3h7.3 M805.2 251.3h-7.3 M82.7 245.5h7.3 M805.2 245.5h-7.3 M82.7 240.3h7.3 M805.2 240.3h-7.3 M82.7 235.6h13.0 M805.2 235.6h-13.0 M82.7 205.1h7.3 M805.2 205.1h-7.3 M82.7 187.2h7.3 M805.2 187.2h-7.3 M82.7 174.6h7.3 M805.2 174.6h-7.3 M82.7 164.7h7.3 M805.2 164.7h-7.3 M82.7 156.7h7.3 M805.2 156.7h-7.3 M82.7 149.9h7.3 M805.2 149.9h-7.3 M82.7 144.1h7.3 M805.2 144.1h-7.3 M82.7 138.9h7.3 M805.2 138.9h-7.3 M82.7 134.2h13.0 M805.2 134.2h-13.0 M82.7 103.7h7.3 M805.2 103.7h-7.3 M82.7 85.8h7.3 M805.2 85.8h-7.3 M82.7 73.2h7.3 M805.2 73.2h-7.3 M82.7 63.3h7.3 M805.2 63.3h-7.3 M82.7 55.3h7.3 M805.2 55.3h-7.3 M82.7 48.5h7.3 M805.2 48.5h-7.3 M82.7 42.7h7.3 M805.2 42.7h-7.3 M82.7 37.5h7.3 M805.2 37.5h-7.3 M82.7 32.8h13.0 M805.2 32.8h-13.0 M157.6 610.7v-7.3 M157.6 2.3v7.3 M210.7 610.7v-7.3 M210.7 2.3v7.3 M251.9 610.7v-7.3 M251.9 2.3v7.3 M285.6 610.7v-7.3 M285.6 2.3v7.3 M314.1 610.7v-7.3 M314.1 2.3v7.3 M338.8 610.7v-7.3 M338.8 2.3v7.3 M360.5 610.7v-7.3 M360.5 2.3v7.3 M380.0 610.7v-13.0 M380.0 2.3v13.0 M508.0 610.7v-7.3 M508.0 2.3v7.3 M582.9 610.7v-7.3 M582.9 2.3v7.3 M636.0 610.7v-7.3 M636.0 2.3v7.3 M677.2 610.7v-7.3 M677.2 2.3v7.3 M710.9 610.7v-7.3 M710.9 2.3v7.3 M739.4 610.7v-7.3 M739.4 2.3v7.3 M764.1 610.7v-7.3 M764.1 2.3v7.3 M785.8 610.7v-7.3 M785.8 2.3v7.3" stroke="#000" stroke-width="2.2" fill="none" stroke-linejoin="miter"/>
<text transform="translate(75.20 644.40) scale(1.1171 1.000) translate(-1.41 0)" font-family="Liberation Sans, sans-serif" font-size="28.1">2</text>
<text transform="translate(244.50 644.40) scale(1.1109 1.000) translate(-1.13 0)" font-family="Liberation Sans, sans-serif" font-size="28.1">5</text>
<text transform="translate(366.70 644.40) scale(0.8502 1.000) translate(-2.14 0)" font-family="Liberation Sans, sans-serif" font-size="28.1">1</text>
<text transform="translate(381.20 644.40) scale(1.0795 1.000) translate(-1.10 0)" font-family="Liberation Sans, sans-serif" font-size="28.1">0</text>
<text transform="translate(492.80 644.40) scale(1.0858 1.000) translate(-1.41 0)" font-family="Liberation Sans, sans-serif" font-size="28.1">2</text>
<text transform="translate(509.10 644.40) scale(1.0869 1.000) translate(-1.10 0)" font-family="Liberation Sans, sans-serif" font-size="28.1">0</text>
<text transform="translate(662.30 644.40) scale(1.0508 1.000) translate(-1.13 0)" font-family="Liberation Sans, sans-serif" font-size="28.1">5</text>
<text transform="translate(677.90 644.40) scale(1.0795 1.000) translate(-1.10 0)" font-family="Liberation Sans, sans-serif" font-size="28.1">0</text>
<text transform="translate(783.70 644.40) scale(0.8502 1.000) translate(-2.14 0)" font-family="Liberation Sans, sans-serif" font-size="28.1">1</text>
<text transform="translate(798.10 644.40) scale(1.0944 1.000) translate(-1.10 0)" font-family="Liberation Sans, sans-serif" font-size="28.1">0</text>
<text transform="translate(814.80 644.40) scale(1.0944 1.000) translate(-1.10 0)" font-family="Liberation Sans, sans-serif" font-size="28.1">0</text>
<text transform="translate(64.80 36.90) rotate(-90) scale(0.7429 1.000) translate(-2.14 0)" font-family="Liberation Sans, sans-serif" font-size="28.1">1</text>
<text transform="translate(64.80 153.20) rotate(-90) scale(1.0050 1.000) translate(-1.10 0)" font-family="Liberation Sans, sans-serif" font-size="28.1">0</text>
<circle cx="62.8" cy="134.3" r="1.8" fill="#000"/>
<text transform="translate(64.80 125.70) rotate(-90) scale(0.7346 1.000) translate(-2.14 0)" font-family="Liberation Sans, sans-serif" font-size="28.1">1</text>
<text transform="translate(64.80 262.70) rotate(-90) scale(1.0050 1.000) translate(-1.10 0)" font-family="Liberation Sans, sans-serif" font-size="28.1">0</text>
<circle cx="62.8" cy="243.6" r="1.8" fill="#000"/>
<text transform="translate(64.80 235.90) rotate(-90) scale(1.0125 1.000) translate(-1.10 0)" font-family="Liberation Sans, sans-serif" font-size="28.1">0</text>
<text transform="translate(64.80 218.70) rotate(-90) scale(0.7346 1.000) translate(-2.14 0)" font-family="Liberation Sans, sans-serif" font-size="28.1">1</text>
<text transform="translate(64.80 361.10) rotate(-90) scale(0.7429 1.000) translate(-2.14 0)" font-family="Liberation Sans, sans-serif" font-size="28.1">1</text>
<text transform="translate(64.80 347.00) rotate(-90) scale(1.0050 1.000) translate(-1.10 0)" font-family="Liberation Sans, sans-serif" font-size="28.1">0</text>
<path d="M44.6 329.7V317.2" stroke="#000" stroke-width="2.1"/>
<text transform="translate(51.70 314.40) rotate(-90) scale(1.0352 1.000) translate(-0.83 0)" font-family="Liberation Sans, sans-serif" font-size="21.8">3</text>
<text transform="translate(64.80 462.50) rotate(-90) scale(0.7429 1.000) translate(-2.14 0)" font-family="Liberation Sans, sans-serif" font-size="28.1">1</text>
<text transform="translate(64.80 448.40) rotate(-90) scale(1.0050 1.000) translate(-1.10 0)" font-family="Liberation Sans, sans-serif" font-size="28.1">0</text>
<path d="M44.6 431.1V418.6" stroke="#000" stroke-width="2.1"/>
<text transform="translate(51.70 415.80) rotate(-90) scale(0.9740 1.000) translate(-0.50 0)" font-family="Liberation Sans, sans-serif" font-size="21.8">4</text>
<text transform="translate(64.80 563.90) rotate(-90) scale(0.7429 1.000) translate(-2.14 0)" font-family="Liberation Sans, sans-serif" font-size="28.1">1</text>
<text transform="translate(64.80 549.80) rotate(-90) scale(1.0050 1.000) translate(-1.10 0)" font-family="Liberation Sans, sans-serif" font-size="28.1">0</text>
<path d="M44.6 532.5V520.0" stroke="#000" stroke-width="2.1"/>
<text transform="translate(51.70 517.20) rotate(-90) scale(1.0352 1.000) translate(-0.87 0)" font-family="Liberation Sans, sans-serif" font-size="21.8">5</text>
<text transform="translate(29.40 455.10) rotate(-90) scale(1.2343 1.000) translate(-0.54 0)" font-family="Liberation Serif, serif" font-size="28.3" stroke="#000" stroke-width="0.2">k</text>
<text transform="translate(29.40 436.31) rotate(-90) scale(1.3000 1.000) translate(-1.11 0)" font-family="Liberation Serif, serif" font-size="28.3" stroke="#000" stroke-width="0.2">e</text>
<text transform="translate(29.40 422.11) rotate(-90) scale(0.9500 1.000) translate(-0.32 0)" font-family="Liberation Serif, serif" font-size="28.3" stroke="#000" stroke-width="0.2">V</text>
<text transform="translate(29.70 389.00) rotate(-90) scale(0.9493 1.160) translate(-1.24 0)" font-family="Liberation Serif, serif" font-size="28.3" stroke="#000" stroke-width="0.2">(</text>
<text transform="translate(29.40 380.20) rotate(-90) scale(1.1608 1.000) translate(-0.54 0)" font-family="Liberation Serif, serif" font-size="28.3" stroke="#000" stroke-width="0.2">k</text>
<text transform="translate(29.40 362.40) rotate(-90) scale(1.2220 1.000) translate(-1.11 0)" font-family="Liberation Serif, serif" font-size="28.3" stroke="#000" stroke-width="0.2">e</text>
<text transform="translate(29.40 348.61) rotate(-90) scale(0.9500 1.000) translate(-0.32 0)" font-family="Liberation Serif, serif" font-size="28.3" stroke="#000" stroke-width="0.2">V</text>
<path d="M31.4 328.6L6.2 314.4" stroke="#000" stroke-width="1.9"/>
<text transform="translate(29.40 311.30) rotate(-90) scale(1.2532 1.000) translate(-1.08 0)" font-family="Liberation Serif, serif" font-size="28.3" stroke="#000" stroke-width="0.2">c</text>
<text transform="translate(29.40 295.50) rotate(-90) scale(1.1728 1.000) translate(-0.59 0)" font-family="Liberation Serif, serif" font-size="28.3" stroke="#000" stroke-width="0.2">m</text>
<text transform="translate(29.40 242.30) rotate(-90) scale(1.0532 1.000) translate(-1.16 0)" font-family="Liberation Serif, serif" font-size="28.3" stroke="#000" stroke-width="0.2">s</text>
<text transform="translate(29.40 216.60) rotate(-90) scale(1.2269 1.000) translate(-0.54 0)" font-family="Liberation Serif, serif" font-size="28.3" stroke="#000" stroke-width="0.2">k</text>
<text transform="translate(29.40 196.60) rotate(-90) scale(1.1648 1.000) translate(-1.11 0)" font-family="Liberation Serif, serif" font-size="28.3" stroke="#000" stroke-width="0.2">e</text>
<text transform="translate(29.40 183.86) rotate(-90) scale(0.9500 1.000) translate(-0.32 0)" font-family="Liberation Serif, serif" font-size="28.3" stroke="#000" stroke-width="0.2">V</text>
<text transform="translate(29.70 164.30) rotate(-90) scale(1.1000 1.160) translate(-0.91 0)" font-family="Liberation Serif, serif" font-size="28.3" stroke="#000" stroke-width="0.2">)</text>
<text transform="translate(15.40 268.50) rotate(-90) scale(1.1820 1.000) translate(-0.98 0)" font-family="Liberation Sans, sans-serif" font-size="19.5">2</text>
<text transform="translate(291.50 702.20) scale(1.2698 1.000) translate(-1.04 0)" font-family="Liberation Serif, serif" font-size="27.3" stroke="#000" stroke-width="0.3">c</text>
<text transform="translate(307.98 702.20) scale(1.3000 1.000) translate(-0.27 0)" font-family="Liberation Serif, serif" font-size="27.3" stroke="#000" stroke-width="0.3">h</text>
<text transform="translate(328.24 702.20) scale(1.3000 1.000) translate(-0.96 0)" font-family="Liberation Serif, serif" font-size="27.3" stroke="#000" stroke-width="0.3">a</text>
<text transform="translate(346.00 702.20) scale(1.3000 1.000) translate(-0.63 0)" font-family="Liberation Serif, serif" font-size="27.3" stroke="#000" stroke-width="0.3">n</text>
<text transform="translate(365.70 702.20) scale(1.3000 1.000) translate(-0.63 0)" font-family="Liberation Serif, serif" font-size="27.3" stroke="#000" stroke-width="0.3">n</text>
<text transform="translate(384.20 702.20) scale(1.1579 1.000) translate(-1.07 0)" font-family="Liberation Serif, serif" font-size="27.3" stroke="#000" stroke-width="0.3">e</text>
<text transform="translate(397.32 702.20) scale(0.9500 1.000) translate(-0.55 0)" font-family="Liberation Serif, serif" font-size="27.3" stroke="#000" stroke-width="0.3">l</text>
<text transform="translate(417.33 702.20) scale(1.3000 1.000) translate(-1.07 0)" font-family="Liberation Serif, serif" font-size="27.3" stroke="#000" stroke-width="0.3">e</text>
<text transform="translate(433.60 702.20) scale(1.3000 1.000) translate(-0.63 0)" font-family="Liberation Serif, serif" font-size="27.3" stroke="#000" stroke-width="0.3">n</text>
<text transform="translate(453.13 702.20) scale(1.3000 1.000) translate(-1.07 0)" font-family="Liberation Serif, serif" font-size="27.3" stroke="#000" stroke-width="0.3">e</text>
<text transform="translate(468.25 702.20) scale(1.3000 1.000) translate(-0.55 0)" font-family="Liberation Serif, serif" font-size="27.3" stroke="#000" stroke-width="0.3">r</text>
<text transform="translate(480.90 702.20) scale(1.1625 1.000) translate(-1.17 0)" font-family="Liberation Serif, serif" font-size="27.3" stroke="#000" stroke-width="0.3">g</text>
<text transform="translate(494.80 702.20) scale(1.2566 1.000) translate(-0.33 0)" font-family="Liberation Serif, serif" font-size="27.3" stroke="#000" stroke-width="0.3">y</text>
<text transform="translate(526.97 702.50) scale(1.1500 1.170) translate(-1.20 0)" font-family="Liberation Serif, serif" font-size="27.3" stroke="#000" stroke-width="0.3">(</text>
<text transform="translate(537.20 702.20) scale(1.2033 1.000) translate(-0.52 0)" font-family="Liberation Serif, serif" font-size="27.3" stroke="#000" stroke-width="0.3">k</text>
<text transform="translate(555.88 702.20) scale(1.3000 1.000) translate(-1.07 0)" font-family="Liberation Serif, serif" font-size="27.3" stroke="#000" stroke-width="0.3">e</text>
<text transform="translate(569.13 702.20) scale(0.9500 1.000) translate(-0.31 0)" font-family="Liberation Serif, serif" font-size="27.3" stroke="#000" stroke-width="0.3">V</text>
<text transform="translate(587.97 702.50) scale(1.1500 1.170) translate(-0.88 0)" font-family="Liberation Serif, serif" font-size="27.3" stroke="#000" stroke-width="0.3">)</text></svg></body></html>
